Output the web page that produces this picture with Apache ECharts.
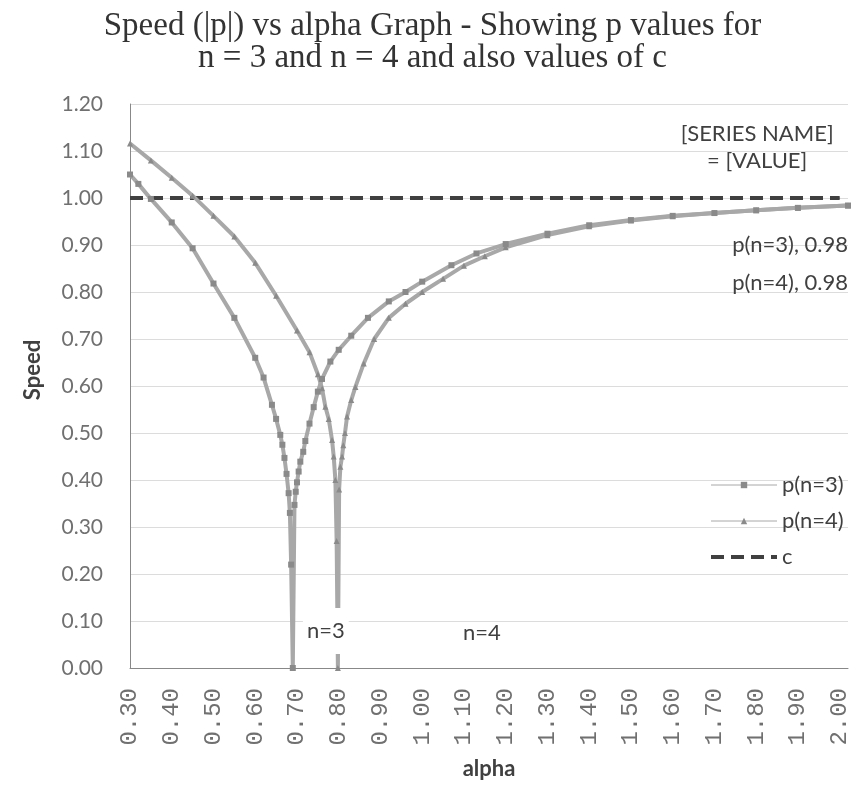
<!DOCTYPE html>
<html lang="en">
<head>
    <meta charset="UTF-8"/>
    <script src="https://cdn.jsdelivr.net/npm/echarts@6/dist/echarts.min.js"></script>
    <title>Speed vs alpha</title>
    <style>
        html, body { margin: 0; padding: 0; background: #fff; }
    </style>
</head>
<body>
<div id="main" style="width: 865px;height:791px;"></div>
<script type="text/javascript">
    // values
    var alphaN3 = [0.30, 0.32, 0.35, 0.40, 0.45, 0.50, 0.55, 0.60, 0.62, 0.64, 0.65, 0.66, 0.665, 0.67, 0.675, 0.68, 0.683, 0.686,
        0.69,
        0.694, 0.697, 0.70, 0.704, 0.708, 0.715, 0.72, 0.73, 0.74, 0.75, 0.76, 0.78, 0.80, 0.83, 0.87, 0.92, 0.96, 1.00,
        1.07, 1.13, 1.20, 1.30, 1.40, 1.50, 1.60, 1.70, 1.80, 1.90, 2.02];
    var speedN3 = [1.05, 1.03, 0.998, 0.948, 0.893, 0.818, 0.745, 0.66, 0.618, 0.56, 0.53, 0.496, 0.475, 0.447, 0.413, 0.372, 0.33, 0.22,
        0.00,
        0.347, 0.375, 0.395, 0.418, 0.439, 0.46, 0.483, 0.52, 0.555, 0.588, 0.615, 0.652, 0.677, 0.707, 0.745, 0.78, 0.80, 0.822,
        0.857, 0.882, 0.902, 0.924, 0.942, 0.953, 0.962, 0.968, 0.974, 0.979, 0.984];

    var alphaN4 = [0.30, 0.35, 0.40, 0.45, 0.50, 0.55, 0.60, 0.65, 0.70, 0.73, 0.75, 0.76, 0.768, 0.776, 0.784, 0.788, 0.792, 0.795,
        0.798,
        0.801, 0.804, 0.808, 0.811, 0.815, 0.82, 0.83, 0.84, 0.86, 0.885, 0.92, 0.96, 1.00, 1.05, 1.10, 1.15, 1.20,
        1.30, 1.40, 1.50, 1.60, 1.70, 1.80, 1.90, 2.02];
    var speedN4 = [1.116, 1.08, 1.043, 1.005, 0.962, 0.918, 0.862, 0.792, 0.718, 0.672, 0.625, 0.595, 0.556, 0.53, 0.485, 0.45, 0.40, 0.27,
        0.00,
        0.38, 0.428, 0.45, 0.474, 0.50, 0.535, 0.57, 0.598, 0.648, 0.70, 0.745, 0.775, 0.80, 0.828, 0.856, 0.876, 0.895,
        0.921, 0.94, 0.952, 0.961, 0.968, 0.974, 0.979, 0.984];

    var alphaC = [0.30, 2.00];
    var speedC = [1.00, 1.00];

    var myChart = echarts.init(document.getElementById('main'));

    function pairs(xs, ys) {
        var out = [];
        for (var i = 0; i < xs.length; i++) {
            out.push([xs[i], ys[i]]);
        }
        return out;
    }

    var dataN3 = pairs(alphaN3, speedN3);
    var dataN4 = pairs(alphaN4, speedN4);
    var dataC = pairs(alphaC, speedC);

    var labelFont = {fontFamily: 'Lato', fontSize: 22, color: '#404040'};

    // value labels at the right end
    dataN3[dataN3.length - 1] = {
        value: dataN3[dataN3.length - 1],
        label: Object.assign({show: true, formatter: 'p(n=3), 0.98', position: [3, 42], align: 'right', verticalAlign: 'middle'}, labelFont)
    };
    dataN4[dataN4.length - 1] = {
        value: dataN4[dataN4.length - 1],
        label: Object.assign({show: true, formatter: 'p(n=4), 0.98', position: [3, 80], align: 'right', verticalAlign: 'middle'}, labelFont)
    };
    // n=3 / n=4 tags sit on the zero points
    var iz3 = speedN3.indexOf(0);
    dataN3[iz3] = {
        value: dataN3[iz3],
        label: Object.assign({show: true, formatter: 'n=3', position: [36, -34], align: 'center', verticalAlign: 'middle',
            backgroundColor: '#ffffff', padding: [14, 4, 10, 4]}, labelFont)
    };
    var iz4 = speedN4.indexOf(0);
    dataN4[iz4] = {
        value: dataN4[iz4],
        label: Object.assign({show: true, formatter: 'n=4', position: [147, -32], align: 'center', verticalAlign: 'middle'}, labelFont)
    };
    dataC[dataC.length - 1] = {
        value: dataC[dataC.length - 1],
        symbol: 'circle',
        symbolSize: 1,
        label: Object.assign({show: true, formatter: '[SERIES NAME]\n= [VALUE]', position: [-82, -50],
            align: 'center', verticalAlign: 'middle', lineHeight: 27}, labelFont)
    };

    option = {
        backgroundColor: '#ffffff',
        animation: false,
        title: {
            text: 'Speed (|p|) vs alpha Graph - Showing p values for\nn = 3 and n = 4 and also values of c',
            left: 'center',
            top: 5,
            textStyle: {
                fontFamily: 'Liberation Serif',
                fontSize: 33,
                fontWeight: 'normal',
                color: '#333',
                lineHeight: 32
            }
        },
        legend: {
            orient: 'vertical',
            left: 704,
            top: 469,
            itemWidth: 66,
            itemHeight: 8,
            itemGap: 14,
            textStyle: {fontFamily: 'Lato', fontSize: 22, color: '#404040'},
            data: [
                {name: 'p(n=3)', lineStyle: {width: 1}},
                {name: 'p(n=4)', lineStyle: {width: 1}},
                {name: 'c', itemStyle: {opacity: 0}, lineStyle: {width: 4}}
            ]
        },
        grid: {
            left: 130,
            right: 17,
            top: 104,
            bottom: 123
        },
        xAxis: {
            type: 'value',
            min: 0.3,
            max: 2.02,
            interval: 0.1,
            name: 'alpha',
            nameLocation: 'middle',
            nameGap: 90,
            nameTextStyle: {fontFamily: 'Lato', fontSize: 22, fontWeight: 'bold', color: '#404040'},
            axisLine: {lineStyle: {color: '#888', width: 1}},
            axisTick: {show: false},
            splitLine: {show: false},
            axisLabel: {
                rotate: 90,
                margin: 20,
                showMaxLabel: false,
                fontFamily: 'Liberation Mono',
                fontSize: 24,
                color: '#707070',
                formatter: function (v) { return v.toFixed(2); }
            }
        },
        yAxis: {
            type: 'value',
            min: 0,
            max: 1.2,
            interval: 0.1,
            name: 'Speed',
            nameLocation: 'middle',
            nameGap: 86,
            nameTextStyle: {fontFamily: 'Lato', fontSize: 22, fontWeight: 'bold', color: '#404040', padding: [0, 0, 0, 32]},
            axisLine: {show: true, lineStyle: {color: '#888', width: 1}},
            axisTick: {show: false},
            splitLine: {lineStyle: {color: '#dcdcdc', width: 1}},
            axisLabel: {
                margin: 27,
                fontFamily: 'Lato',
                fontSize: 21,
                color: '#707070',
                formatter: function (v) { return v.toFixed(2); }
            }
        },
        series: [
            {
                name: 'p(n=3)',
                type: 'line',
                data: dataN3,
                symbol: 'rect',
                symbolSize: 6,
                showAllSymbol: true,
                lineStyle: {color: '#a8a8a8', width: 4},
                itemStyle: {color: '#8a8a8a'},
                z: 4
            },
            {
                name: 'p(n=4)',
                type: 'line',
                data: dataN4,
                symbol: 'triangle',
                symbolSize: 6,
                showAllSymbol: true,
                lineStyle: {color: '#a8a8a8', width: 4},
                itemStyle: {color: '#8a8a8a'},
                z: 3
            },
            {
                name: 'c',
                type: 'line',
                data: dataC,
                symbol: 'none',
                lineStyle: {color: '#404040', width: 4, type: [13, 7]},
                itemStyle: {color: '#404040'},
                z: 2
            }
        ]
    };

    myChart.setOption(option);
</script>
</body>
</html>
